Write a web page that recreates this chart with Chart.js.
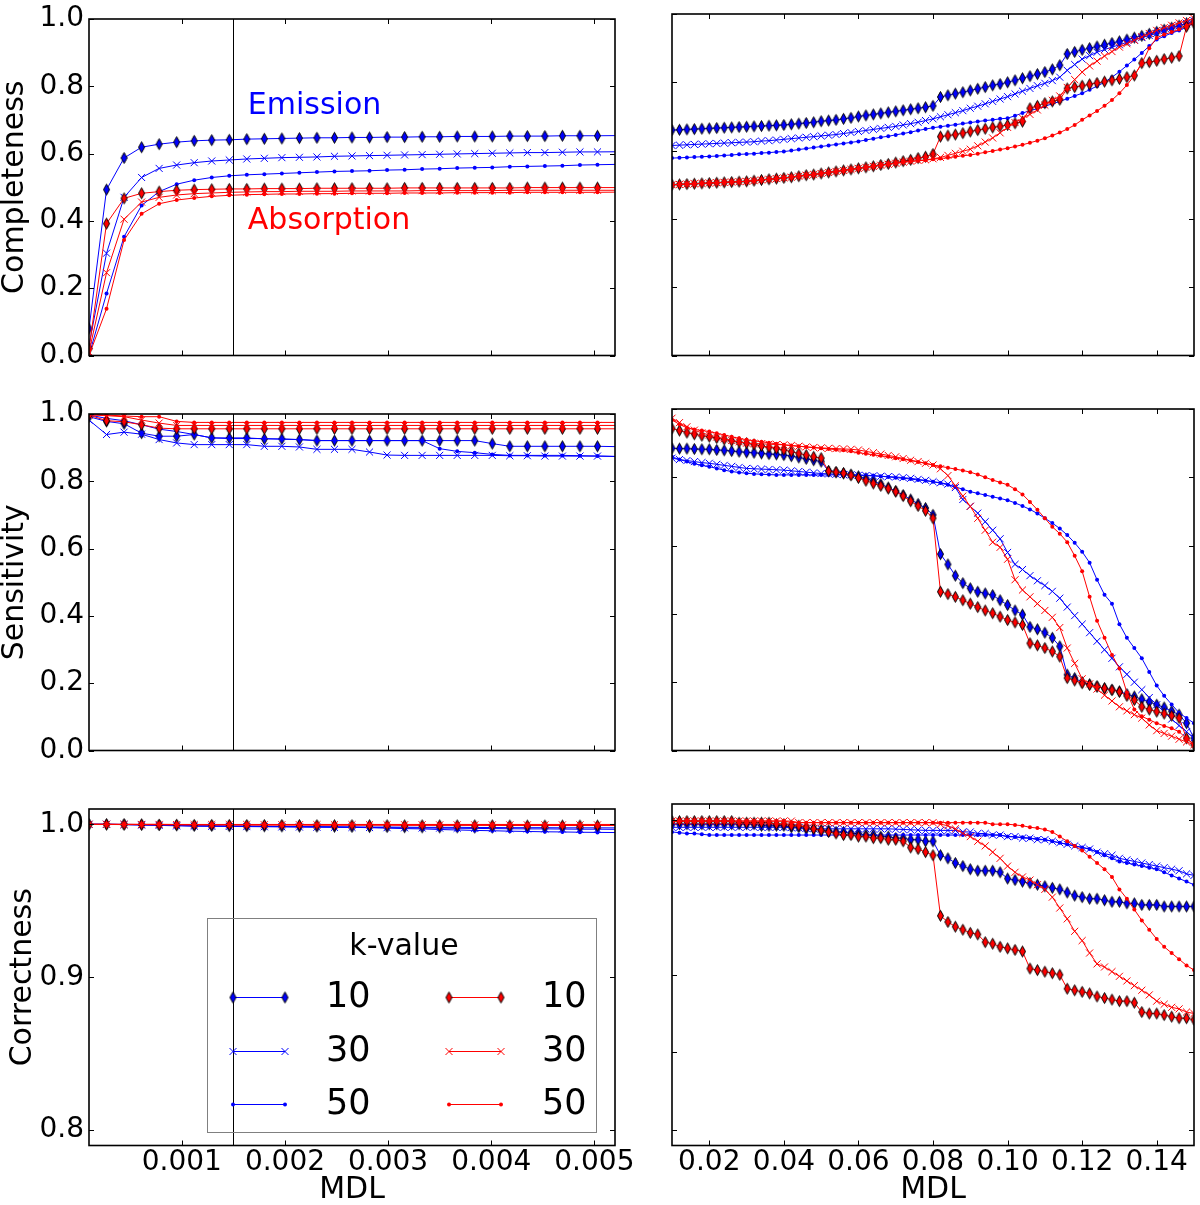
<!DOCTYPE html>
<html><head><meta charset="utf-8">
<script src="https://cdn.jsdelivr.net/npm/chart.js@4.4.1/dist/chart.umd.min.js"></script>
<style>
html,body{margin:0;padding:0;background:#fff;}
#wrap{position:relative;width:1200px;height:1205px;overflow:hidden;}
canvas{position:absolute;}
</style></head><body><div id="wrap">
<canvas id="cL1" width="650" height="395" style="left:0;top:0"></canvas>
<canvas id="cR1" width="550" height="395" style="left:650px;top:0"></canvas>
<canvas id="cL2" width="650" height="395" style="left:0;top:395px"></canvas>
<canvas id="cR2" width="550" height="395" style="left:650px;top:395px"></canvas>
<canvas id="cL3" width="650" height="415" style="left:0;top:790px"></canvas>
<canvas id="cR3" width="550" height="415" style="left:650px;top:790px"></canvas>
</div>
<script>
// ---------- categories / labels ----------
const kValues = ['10', '30', '50'];
const yTitles = ['Completeness', 'Sensitivity', 'Correctness'];
const xTitle = 'MDL';
const legendTitle = 'k-value';
const emissionText = 'Emission';
const absorptionText = 'Absorption';
const emissionPos = [0.00164, 0.719];
const absorptionPos = [0.00164, 0.376];
const markLine = 0.0015;

// ---------- tick labels ----------
const xTicksLeft = [0.001, 0.002, 0.003, 0.004, 0.005];
const xTicksRight = [0.02, 0.04, 0.06, 0.08, 0.10, 0.12, 0.14];
const yTicksUnit = [0, 0.2, 0.4, 0.6, 0.8, 1.0];
const yTicksCorrLeft = [0.8, 0.9, 1.0];
const yTicksCorrRight = [0.8, 0.85, 0.9, 1.0];

// ---------- x values ----------
const xLeft = [0.0001,0.00027,0.00044,0.00061,0.00078,0.00095,0.00112,0.00129,0.00146,0.00163,
0.0018,0.00197,0.00214,0.00231,0.00248,0.00265,0.00282,0.00299,0.00316,0.00333,
0.0035,0.00367,0.00384,0.00401,0.00418,0.00435,0.00452,0.00469,0.00486,0.00503,0.0054];
const xRight = [0.010,0.012,0.014,0.016,0.018,0.020,0.022,0.024,0.026,0.028,
0.030,0.032,0.034,0.036,0.038,0.040,0.042,0.044,0.046,0.048,
0.050,0.052,0.054,0.056,0.058,0.060,0.062,0.064,0.066,0.068,
0.070,0.072,0.074,0.076,0.078,0.080,0.082,0.084,0.086,0.088,
0.090,0.092,0.094,0.096,0.098,0.100,0.102,0.104,0.106,0.108,
0.110,0.112,0.114,0.116,0.118,0.120,0.122,0.124,0.126,0.128,
0.130,0.132,0.134,0.136,0.138,0.140,0.142,0.144,0.146,0.148,0.150];

// ---------- Completeness, left ----------
const compL_em10 = [0.08,0.493,0.587,0.619,0.628,0.634,0.638,0.640,0.641,0.643,0.644,0.645,0.646,0.647,0.647,0.648,0.648,0.649,0.649,0.650,0.650,0.651,0.651,0.651,0.652,0.652,0.652,0.653,0.653,0.653,0.654];
const compL_em30 = [0.03,0.304,0.470,0.529,0.556,0.566,0.573,0.578,0.581,0.584,0.586,0.588,0.589,0.590,0.592,0.593,0.594,0.595,0.596,0.597,0.598,0.599,0.600,0.601,0.602,0.603,0.603,0.604,0.605,0.605,0.606];
const compL_em50 = [0,0.184,0.353,0.446,0.487,0.509,0.521,0.529,0.534,0.537,0.539,0.541,0.543,0.545,0.547,0.548,0.549,0.551,0.552,0.554,0.555,0.557,0.558,0.559,0.561,0.562,0.563,0.564,0.566,0.567,0.569];
const compL_ab10 = [0.02,0.392,0.467,0.482,0.487,0.491,0.493,0.494,0.495,0.495,0.496,0.496,0.496,0.497,0.497,0.497,0.497,0.497,0.498,0.498,0.498,0.498,0.498,0.498,0.498,0.499,0.499,0.499,0.499,0.499,0.499];
const compL_ab30 = [0.01,0.246,0.405,0.456,0.470,0.477,0.481,0.483,0.485,0.486,0.487,0.487,0.488,0.488,0.488,0.489,0.489,0.489,0.489,0.490,0.490,0.490,0.490,0.490,0.491,0.491,0.491,0.491,0.491,0.491,0.491];
const compL_ab50 = [0,0.139,0.343,0.421,0.451,0.462,0.468,0.473,0.476,0.478,0.479,0.480,0.480,0.481,0.481,0.482,0.482,0.482,0.483,0.483,0.483,0.484,0.484,0.484,0.484,0.485,0.485,0.485,0.485,0.485,0.486];

// ---------- Sensitivity, left ----------
const sensL_em10 = [0.992,0.978,0.971,0.943,0.934,0.934,0.939,0.929,0.929,0.929,0.926,0.926,0.924,0.921,0.921,0.921,0.921,0.921,0.921,0.921,0.921,0.921,0.921,0.912,0.904,0.904,0.904,0.904,0.904,0.904,0.902];
const sensL_em30 = [0.982,0.939,0.946,0.940,0.924,0.914,0.909,0.909,0.909,0.909,0.904,0.904,0.902,0.895,0.895,0.895,0.887,0.878,0.877,0.877,0.877,0.877,0.877,0.877,0.876,0.876,0.875,0.875,0.875,0.875,0.872];
const sensL_em50 = [0.997,0.987,0.980,0.968,0.955,0.948,0.939,0.929,0.927,0.927,0.927,0.925,0.924,0.921,0.921,0.921,0.921,0.921,0.921,0.921,0.897,0.889,0.885,0.880,0.877,0.877,0.877,0.877,0.876,0.875,0.873];
const sensL_ab10 = [0.997,0.980,0.977,0.968,0.958,0.956,0.956,0.956,0.956,0.956,0.956,0.956,0.956,0.956,0.956,0.956,0.956,0.956,0.956,0.956,0.956,0.956,0.956,0.956,0.956,0.956,0.956,0.956,0.956,0.956,0.956];
const sensL_ab30 = [0.997,0.995,0.992,0.982,0.973,0.966,0.966,0.966,0.966,0.966,0.966,0.966,0.966,0.966,0.966,0.966,0.966,0.966,0.966,0.966,0.966,0.966,0.966,0.966,0.966,0.966,0.966,0.966,0.966,0.966,0.966];
const sensL_ab50 = [1.0,0.997,0.994,0.992,0.992,0.978,0.975,0.975,0.975,0.975,0.975,0.975,0.975,0.975,0.975,0.975,0.975,0.975,0.975,0.975,0.975,0.975,0.975,0.975,0.975,0.975,0.975,0.975,0.975,0.975,0.975];

// ---------- Correctness, left ----------
const corrL_em10 = [1.0,1.0,1.0,0.9998,0.9995,0.9993,0.999,0.999,0.9988,0.9988,0.9987,0.9986,0.9985,0.9985,0.9984,0.9983,0.9982,0.9982,0.9981,0.998,0.998,0.998,0.9979,0.9979,0.9978,0.9978,0.9978,0.9977,0.9977,0.9977,0.9976];
const corrL_em30 = [1.0,1.0,0.9998,0.9995,0.9993,0.999,0.9988,0.9987,0.9986,0.9985,0.9984,0.9983,0.9982,0.9981,0.998,0.998,0.9979,0.9978,0.9977,0.9976,0.9975,0.9974,0.9973,0.9972,0.9971,0.997,0.997,0.9969,0.9968,0.9968,0.9966];
const corrL_em50 = [1.0,1.0,0.9998,0.9996,0.9994,0.9992,0.999,0.9989,0.9988,0.9987,0.9986,0.9985,0.9984,0.9983,0.9982,0.998,0.9978,0.9975,0.9972,0.997,0.9966,0.9963,0.996,0.9958,0.9955,0.9953,0.9951,0.995,0.9948,0.9947,0.9945];
const corrL_ab10 = [1.0,0.9999,0.9998,0.9998,0.9997,0.9997,0.9996,0.9996,0.9996,0.9995,0.9995,0.9995,0.9995,0.9994,0.9994,0.9994,0.9994,0.9994,0.9993,0.9993,0.9993,0.9993,0.9993,0.9993,0.9992,0.9992,0.9992,0.9992,0.9992,0.9992,0.9992];
const corrL_ab30 = [1.0,1.0,0.9999,0.9999,0.9999,0.9998,0.9998,0.9998,0.9998,0.9998,0.9997,0.9997,0.9997,0.9997,0.9997,0.9997,0.9997,0.9997,0.9997,0.9997,0.9996,0.9996,0.9996,0.9996,0.9996,0.9996,0.9996,0.9996,0.9996,0.9996,0.9996];
const corrL_ab50 = [1.0,1.0,1.0,1.0,1.0,0.9999,0.9999,0.9999,0.9999,0.9999,0.9999,0.9999,0.9999,0.9999,0.9999,0.9999,0.9999,0.9999,0.9999,0.9999,0.9999,0.9999,0.9999,0.9999,0.9999,0.9999,0.9999,0.9999,0.9999,0.9999,0.9999];

// ---------- Completeness, right ----------
const compR_em10 = [0.660,0.661,0.662,0.663,0.664,0.665,0.666,0.667,0.668,0.669,
0.670,0.671,0.672,0.673,0.674,0.675,0.677,0.679,0.681,0.683,
0.686,0.688,0.690,0.693,0.696,0.700,0.703,0.706,0.709,0.712,
0.715,0.718,0.721,0.724,0.727,0.731,0.757,0.762,0.767,0.771,
0.776,0.781,0.786,0.791,0.795,0.800,0.806,0.812,0.818,0.824,
0.830,0.838,0.850,0.883,0.889,0.895,0.900,0.905,0.910,0.915,
0.920,0.925,0.931,0.936,0.942,0.948,0.954,0.960,0.966,0.973,0.980];
const compR_em30 = [0.615,0.616,0.617,0.618,0.619,0.620,0.621,0.622,0.623,0.624,
0.625,0.626,0.628,0.629,0.631,0.633,0.635,0.637,0.639,0.641,
0.643,0.645,0.647,0.650,0.653,0.656,0.659,0.662,0.665,0.668,
0.671,0.675,0.679,0.683,0.688,0.693,0.699,0.705,0.711,0.717,
0.724,0.730,0.737,0.744,0.751,0.758,0.766,0.774,0.782,0.790,
0.797,0.805,0.815,0.835,0.852,0.868,0.878,0.888,0.896,0.903,
0.910,0.917,0.924,0.931,0.937,0.943,0.951,0.958,0.965,0.972,0.980];
const compR_em50 = [0.578,0.579,0.580,0.581,0.582,0.583,0.584,0.586,0.587,0.589,
0.590,0.591,0.593,0.594,0.596,0.597,0.600,0.603,0.606,0.609,
0.612,0.615,0.618,0.621,0.624,0.627,0.631,0.635,0.639,0.642,
0.646,0.650,0.654,0.659,0.663,0.667,0.670,0.673,0.676,0.679,
0.682,0.685,0.688,0.690,0.693,0.695,0.702,0.710,0.717,0.723,
0.730,0.737,0.744,0.752,0.760,0.768,0.778,0.789,0.800,0.815,
0.831,0.849,0.867,0.886,0.906,0.925,0.935,0.944,0.952,0.962,0.973];
const compR_ab10 = [0.500,0.501,0.502,0.503,0.504,0.505,0.506,0.507,0.508,0.509,
0.510,0.512,0.514,0.516,0.518,0.520,0.522,0.525,0.528,0.530,
0.533,0.536,0.539,0.542,0.545,0.548,0.551,0.554,0.558,0.561,
0.565,0.569,0.573,0.578,0.582,0.590,0.641,0.644,0.647,0.651,
0.656,0.660,0.664,0.668,0.671,0.675,0.680,0.685,0.724,0.731,
0.739,0.744,0.749,0.782,0.786,0.790,0.794,0.798,0.802,0.806,
0.810,0.815,0.820,0.856,0.859,0.863,0.868,0.872,0.877,0.963,0.973];
const compR_ab30 = [0.500,0.501,0.502,0.503,0.504,0.505,0.506,0.507,0.508,0.509,
0.510,0.512,0.514,0.516,0.518,0.520,0.522,0.525,0.528,0.530,
0.533,0.536,0.539,0.542,0.545,0.548,0.551,0.554,0.557,0.560,
0.563,0.566,0.569,0.571,0.573,0.576,0.580,0.586,0.592,0.598,
0.604,0.614,0.625,0.637,0.652,0.668,0.682,0.695,0.706,0.719,
0.733,0.747,0.760,0.785,0.808,0.830,0.848,0.862,0.877,0.890,
0.903,0.913,0.923,0.933,0.943,0.952,0.960,0.967,0.974,0.981,0.987];
const compR_ab50 = [0.500,0.501,0.502,0.503,0.504,0.505,0.506,0.507,0.508,0.509,
0.510,0.512,0.514,0.516,0.518,0.520,0.522,0.525,0.528,0.530,
0.533,0.536,0.539,0.542,0.545,0.548,0.551,0.554,0.557,0.560,
0.563,0.566,0.568,0.570,0.572,0.575,0.577,0.579,0.582,0.585,
0.587,0.591,0.595,0.599,0.603,0.607,0.612,0.617,0.623,0.629,
0.636,0.644,0.653,0.663,0.675,0.690,0.703,0.716,0.731,0.748,
0.768,0.792,0.820,0.855,0.900,0.930,0.940,0.947,0.955,0.966,0.977];

// ---------- Sensitivity, right ----------
const sensR_em10 = [0.885,0.884,0.884,0.883,0.882,0.882,0.880,0.879,0.877,0.875,
0.873,0.872,0.870,0.868,0.867,0.865,0.862,0.858,0.854,0.850,
0.846,0.818,0.815,0.812,0.808,0.803,0.797,0.789,0.780,0.770,
0.760,0.748,0.735,0.722,0.710,0.690,0.575,0.545,0.512,0.490,
0.475,0.465,0.460,0.455,0.440,0.426,0.410,0.398,0.362,0.355,
0.345,0.330,0.305,0.222,0.212,0.200,0.194,0.188,0.182,0.178,
0.173,0.165,0.158,0.150,0.142,0.134,0.126,0.115,0.105,0.080,0.036];
const sensR_em30 = [0.856,0.852,0.849,0.846,0.843,0.841,0.838,0.835,0.832,0.829,
0.826,0.825,0.824,0.823,0.822,0.821,0.819,0.817,0.815,0.813,
0.811,0.810,0.809,0.808,0.807,0.806,0.805,0.804,0.803,0.802,
0.801,0.799,0.797,0.794,0.791,0.787,0.784,0.780,0.770,0.735,
0.715,0.695,0.670,0.645,0.620,0.580,0.545,0.530,0.512,0.497,
0.483,0.466,0.446,0.420,0.395,0.370,0.345,0.320,0.295,0.270,
0.245,0.223,0.200,0.178,0.155,0.134,0.113,0.092,0.073,0.055,0.036];
const sensR_em50 = [0.860,0.852,0.846,0.840,0.835,0.831,0.826,0.821,0.817,0.814,
0.812,0.810,0.809,0.808,0.807,0.807,0.807,0.807,0.807,0.807,
0.807,0.807,0.807,0.807,0.807,0.807,0.806,0.805,0.803,0.801,
0.799,0.797,0.795,0.792,0.790,0.787,0.783,0.778,0.772,0.765,
0.758,0.753,0.748,0.743,0.738,0.733,0.725,0.716,0.706,0.694,
0.680,0.666,0.650,0.631,0.608,0.582,0.550,0.500,0.456,0.430,
0.370,0.330,0.300,0.270,0.230,0.190,0.160,0.135,0.110,0.095,0.080];
const sensR_ab10 = [0.943,0.937,0.931,0.926,0.922,0.919,0.915,0.911,0.907,0.903,
0.900,0.896,0.892,0.888,0.884,0.880,0.875,0.870,0.865,0.860,
0.856,0.818,0.815,0.812,0.806,0.798,0.790,0.782,0.775,0.767,
0.758,0.745,0.730,0.716,0.702,0.680,0.465,0.458,0.450,0.440,
0.430,0.420,0.410,0.402,0.392,0.382,0.375,0.368,0.314,0.308,
0.300,0.290,0.275,0.212,0.205,0.197,0.192,0.187,0.182,0.177,
0.172,0.160,0.148,0.128,0.120,0.114,0.108,0.102,0.095,0.036,0.017];
const sensR_ab30 = [0.973,0.960,0.948,0.938,0.930,0.924,0.918,0.913,0.908,0.904,
0.900,0.899,0.898,0.897,0.896,0.895,0.893,0.891,0.889,0.887,
0.886,0.885,0.884,0.883,0.882,0.880,0.876,0.872,0.868,0.864,
0.860,0.855,0.850,0.846,0.841,0.836,0.825,0.805,0.775,0.745,
0.715,0.680,0.645,0.610,0.595,0.560,0.500,0.470,0.450,0.430,
0.410,0.390,0.360,0.300,0.255,0.210,0.195,0.180,0.162,0.145,
0.128,0.116,0.105,0.095,0.075,0.058,0.050,0.042,0.033,0.025,0.017];
const sensR_ab50 = [0.968,0.955,0.945,0.940,0.937,0.934,0.929,0.924,0.919,0.914,
0.910,0.907,0.904,0.901,0.898,0.895,0.893,0.891,0.889,0.887,
0.885,0.883,0.881,0.879,0.876,0.872,0.869,0.866,0.863,0.860,
0.856,0.853,0.849,0.845,0.841,0.836,0.832,0.828,0.824,0.820,
0.815,0.808,0.800,0.792,0.785,0.778,0.765,0.750,0.728,0.705,
0.680,0.655,0.635,0.610,0.570,0.525,0.450,0.380,0.330,0.280,
0.240,0.170,0.120,0.100,0.090,0.080,0.072,0.065,0.055,0.035,0.017];

// ---------- Correctness, right ----------
const corrR_em10 = [0.997,0.997,0.997,0.997,0.997,0.997,0.997,0.997,0.997,0.997,
0.997,0.997,0.996,0.996,0.996,0.996,0.995,0.995,0.994,0.994,
0.993,0.993,0.992,0.992,0.991,0.991,0.990,0.990,0.989,0.989,
0.988,0.988,0.987,0.987,0.986,0.986,0.977,0.975,0.972,0.970,
0.968,0.967,0.967,0.967,0.966,0.962,0.961,0.960,0.959,0.958,
0.957,0.956,0.955,0.953,0.951,0.950,0.949,0.949,0.948,0.947,
0.947,0.946,0.946,0.945,0.945,0.945,0.944,0.944,0.944,0.944,0.944];
const corrR_em30 = [0.995,0.995,0.995,0.995,0.995,0.995,0.995,0.995,0.995,0.995,
0.995,0.995,0.995,0.995,0.995,0.995,0.9948,0.9946,0.9944,0.9942,
0.994,0.994,0.994,0.994,0.994,0.994,0.994,0.994,0.994,0.994,
0.9938,0.9936,0.9934,0.9932,0.993,0.993,0.993,0.993,0.993,0.992,
0.992,0.991,0.991,0.990,0.990,0.989,0.989,0.988,0.988,0.987,
0.987,0.986,0.985,0.984,0.983,0.982,0.981,0.979,0.978,0.977,
0.975,0.974,0.973,0.972,0.971,0.970,0.969,0.968,0.967,0.965,0.964];
const corrR_em50 = [0.992,0.9915,0.991,0.991,0.9905,0.990,0.990,0.990,0.990,0.990,
0.990,0.990,0.990,0.990,0.990,0.990,0.990,0.990,0.990,0.990,
0.990,0.990,0.990,0.990,0.990,0.990,0.990,0.990,0.990,0.990,
0.990,0.990,0.990,0.990,0.990,0.990,0.990,0.990,0.990,0.990,
0.990,0.990,0.990,0.990,0.990,0.989,0.9888,0.9885,0.988,0.9875,
0.987,0.986,0.985,0.984,0.983,0.982,0.981,0.979,0.977,0.975,
0.973,0.972,0.971,0.970,0.969,0.968,0.966,0.964,0.962,0.960,0.958];
const corrR_ab10 = [0.999,0.999,0.999,0.999,0.999,0.999,0.999,0.999,0.999,0.998,
0.998,0.998,0.998,0.998,0.997,0.997,0.996,0.996,0.995,0.994,
0.993,0.992,0.991,0.990,0.990,0.989,0.989,0.988,0.988,0.987,
0.987,0.986,0.982,0.981,0.979,0.977,0.938,0.934,0.931,0.929,
0.927,0.926,0.921,0.920,0.918,0.917,0.916,0.915,0.904,0.903,
0.902,0.901,0.900,0.891,0.890,0.889,0.888,0.886,0.885,0.884,
0.883,0.883,0.882,0.876,0.875,0.875,0.874,0.873,0.872,0.872,0.871];
const corrR_ab30 = [0.999,0.999,0.999,0.999,0.999,0.999,0.999,0.999,0.999,0.999,
0.999,0.999,0.999,0.999,0.999,0.999,0.999,0.998,0.998,0.998,
0.998,0.998,0.998,0.998,0.998,0.998,0.998,0.998,0.998,0.998,
0.998,0.998,0.998,0.998,0.998,0.998,0.997,0.996,0.994,0.991,
0.989,0.986,0.983,0.979,0.975,0.970,0.966,0.963,0.961,0.958,
0.955,0.950,0.943,0.936,0.928,0.922,0.914,0.907,0.905,0.902,
0.899,0.896,0.893,0.890,0.887,0.883,0.881,0.879,0.878,0.876,0.875];
const corrR_ab50 = [0.999,0.999,0.999,0.999,0.999,0.999,0.999,0.999,0.999,0.999,
0.999,0.999,0.999,0.999,0.999,0.999,0.998,0.998,0.998,0.998,
0.998,0.998,0.998,0.998,0.998,0.998,0.998,0.998,0.998,0.998,
0.998,0.998,0.998,0.998,0.998,0.998,0.998,0.998,0.998,0.998,
0.998,0.998,0.998,0.997,0.997,0.997,0.9965,0.996,0.995,0.9945,
0.9935,0.992,0.989,0.986,0.983,0.980,0.976,0.972,0.968,0.963,
0.955,0.949,0.942,0.935,0.929,0.923,0.918,0.914,0.910,0.906,0.903];

// ---------- styling ----------
const FONT = '"DejaVu Sans", "Liberation Sans", sans-serif';
const BLUE = '#0000ff';
const RED = '#ff0000';

function diamondImg(fill) {
  const c = document.createElement('canvas');
  c.width = 9; c.height = 14;
  const g = c.getContext('2d');
  g.beginPath();
  g.moveTo(4.5, 1.5); g.lineTo(7.5, 7); g.lineTo(4.5, 12.5); g.lineTo(1.5, 7); g.closePath();
  g.fillStyle = fill; g.fill();
  g.lineWidth = 1; g.strokeStyle = '#000'; g.stroke();
  return c;
}
const diamondBlue = diamondImg(BLUE);
const diamondRed = diamondImg(RED);

function markerStyle(k, color) {
  if (k === '10') return { pointStyle: color === BLUE ? diamondBlue : diamondRed, pointRadius: 5, pointBackgroundColor: color, pointBorderColor: '#000', pointBorderWidth: 1 };
  if (k === '30') return { pointStyle: 'crossRot', pointRadius: 5, pointBackgroundColor: color, pointBorderColor: color, pointBorderWidth: 1 };
  return { pointStyle: 'circle', pointRadius: 2, pointBackgroundColor: color, pointBorderColor: color, pointBorderWidth: 0 };
}

function buildDatasets(xs, em, ab) {
  const list = [];
  em.forEach((ys, i) => list.push({ k: kValues[i], color: BLUE, ys }));
  ab.forEach((ys, i) => list.push({ k: kValues[i], color: RED, ys }));
  return list.map((s, i) => Object.assign({
    label: s.k,
    data: s.ys.map((y, j) => ({ x: xs[j], y })),
    borderColor: s.color, borderWidth: 1, tension: 0, fill: false,
    order: list.length - i
  }, markerStyle(s.k, s.color)));
}

function drawMarker(ctx, d, x, y) {
  ctx.save();
  const st = d.pointStyle;
  if (typeof st === 'object') {
    ctx.drawImage(st, x - st.width / 2, y - st.height / 2);
  } else if (st === 'crossRot') {
    ctx.strokeStyle = d.pointBorderColor; ctx.lineWidth = 1;
    ctx.beginPath();
    ctx.moveTo(x - 3.5, y - 3.5); ctx.lineTo(x + 3.5, y + 3.5);
    ctx.moveTo(x - 3.5, y + 3.5); ctx.lineTo(x + 3.5, y - 3.5);
    ctx.stroke();
  } else {
    ctx.fillStyle = d.pointBackgroundColor;
    ctx.beginPath(); ctx.arc(x, y, 2, 0, Math.PI * 2); ctx.fill();
  }
  ctx.restore();
}

function drawLegend(chart, a, ctx) {
  ctx.save();
  ctx.strokeStyle = '#808080'; ctx.lineWidth = 1;
  ctx.strokeRect(Math.round(a.left + 118) + 0.5, Math.round(a.top + 109) + 0.5, 389, 214);
  ctx.fillStyle = '#000';
  ctx.font = '30px ' + FONT;
  ctx.textAlign = 'center'; ctx.textBaseline = 'middle';
  ctx.fillText(legendTitle, a.left + 315, a.top + 138);
  ctx.font = '35px ' + FONT;
  ctx.textAlign = 'left';
  const rowsY = [188, 242, 295];
  const handleX = [144, 360];
  const labelX = [237, 453];
  chart.data.datasets.forEach((d, i) => {
    const col = Math.floor(i / 3), row = i % 3;
    const y = Math.round(a.top + rowsY[row]) + 0.5;
    const x1 = a.left + handleX[col], x2 = x1 + 52;
    ctx.strokeStyle = d.borderColor; ctx.lineWidth = 1;
    ctx.beginPath(); ctx.moveTo(x1, y); ctx.lineTo(x2, y); ctx.stroke();
    drawMarker(ctx, d, x1, y); drawMarker(ctx, d, x2, y);
    ctx.fillStyle = '#000';
    ctx.fillText(d.label, a.left + labelX[col], y);
  });
  ctx.restore();
}

function framePlugin(o) {
  return {
    id: 'frame',
    afterDatasetsDraw(chart) {
      const ctx = chart.ctx, a = chart.chartArea, xs = chart.scales.x, ys = chart.scales.y;
      ctx.save();
      ctx.strokeStyle = '#000'; ctx.lineWidth = 1;
      if (o.vline != null) {
        const p = Math.round(xs.getPixelForValue(o.vline)) + 0.5;
        ctx.beginPath(); ctx.moveTo(p, a.top); ctx.lineTo(p, a.bottom); ctx.stroke();
      }
      if (o.texts) {
        ctx.font = '30px ' + FONT; ctx.textAlign = 'left'; ctx.textBaseline = 'alphabetic';
        o.texts.forEach(t => {
          ctx.fillStyle = t.color;
          ctx.fillText(t.text, xs.getPixelForValue(t.pos[0]), ys.getPixelForValue(t.pos[1]));
        });
      }
      if (o.legend) drawLegend(chart, a, ctx);
      const L = 5;
      ctx.strokeStyle = '#000'; ctx.lineWidth = 1;
      ctx.beginPath();
      xs.ticks.forEach(t => {
        const p = Math.round(xs.getPixelForValue(t.value)) + 0.5;
        ctx.moveTo(p, a.bottom); ctx.lineTo(p, a.bottom - L);
        ctx.moveTo(p, a.top); ctx.lineTo(p, a.top + L);
      });
      ys.ticks.forEach(t => {
        const p = Math.round(ys.getPixelForValue(t.value)) + 0.5;
        ctx.moveTo(a.left, p); ctx.lineTo(a.left + L, p);
        ctx.moveTo(a.right, p); ctx.lineTo(a.right - L, p);
      });
      ctx.stroke();
      ctx.lineWidth = 1.6;
      ctx.strokeRect(a.left, a.top, a.right - a.left, a.bottom - a.top);
      ctx.restore();
    }
  };
}

function panel(id, o) {
  const left = o.side === 'L';
  const datasets = buildDatasets(o.xs, o.em, o.ab);
  return new Chart(document.getElementById(id), {
    type: 'line',
    data: { datasets },
    options: {
      responsive: false, animation: false, devicePixelRatio: 1, events: [],
      layout: { padding: { left: 0, right: left ? 35 : 2, top: 14, bottom: 0 } },
      plugins: { legend: { display: false }, tooltip: { enabled: false } },
      scales: {
        x: {
          type: 'linear', position: 'bottom',
          min: left ? 0.0001 : 0.01, max: left ? 0.0052 : 0.15,
          grid: { display: false, drawTicks: false }, border: { display: false },
          afterBuildTicks: sc => { sc.ticks = (left ? xTicksLeft : xTicksRight).map(v => ({ value: v })); },
          afterFit: sc => { sc.height = o.bottomRow ? 59.5 : 39.5; },
          ticks: {
            display: !!o.bottomRow, autoSkip: false, maxRotation: 0, minRotation: 0, padding: 0,
            color: '#000', font: { family: FONT, size: 28 },
            callback: v => v.toFixed(left ? 3 : 2)
          },
          title: { display: !!o.bottomRow, text: xTitle, color: '#000',
                   font: { family: FONT, size: 30, lineHeight: 1 }, padding: { top: 0, bottom: 0 } }
        },
        y: {
          type: 'linear', position: 'left', min: o.ymin, max: o.ymax,
          grid: { display: false, drawTicks: false }, border: { display: false },
          afterBuildTicks: sc => { sc.ticks = o.yticks.map(v => ({ value: v })); },
          afterFit: sc => { sc.width = left ? 89 : 22; },
          ticks: {
            display: left, autoSkip: false, padding: 5, color: '#000',
            font: { family: FONT, size: 28, lineHeight: 1 },
            callback: v => v.toFixed(1)
          },
          title: { display: left, text: o.ytitle || '', color: '#000',
                   font: { family: FONT, size: 30, lineHeight: 1 }, padding: { top: o.ytpad || 0, bottom: 0 } }
        }
      }
    },
    plugins: [framePlugin(o)]
  });
}

panel('cL1', { side: 'L', xs: xLeft, em: [compL_em10, compL_em30, compL_em50], ab: [compL_ab10, compL_ab30, compL_ab50],
  ymin: 0, ymax: 1, yticks: yTicksUnit, ytitle: yTitles[0], ytpad: 0, vline: markLine,
  texts: [{ text: emissionText, color: BLUE, pos: emissionPos }, { text: absorptionText, color: RED, pos: absorptionPos }] });
panel('cR1', { side: 'R', xs: xRight, em: [compR_em10, compR_em30, compR_em50], ab: [compR_ab10, compR_ab30, compR_ab50],
  ymin: 0, ymax: 1, yticks: yTicksUnit });
panel('cL2', { side: 'L', xs: xLeft, em: [sensL_em10, sensL_em30, sensL_em50], ab: [sensL_ab10, sensL_ab30, sensL_ab50],
  ymin: 0, ymax: 1, yticks: yTicksUnit, ytitle: yTitles[1], ytpad: 0, vline: markLine });
panel('cR2', { side: 'R', xs: xRight, em: [sensR_em10, sensR_em30, sensR_em50], ab: [sensR_ab10, sensR_ab30, sensR_ab50],
  ymin: 0, ymax: 1, yticks: yTicksUnit });
panel('cL3', { side: 'L', xs: xLeft, em: [corrL_em10, corrL_em30, corrL_em50], ab: [corrL_ab10, corrL_ab30, corrL_ab50],
  ymin: 0.79, ymax: 1.01, yticks: yTicksCorrLeft, ytitle: yTitles[2], ytpad: 8, vline: markLine, legend: true, bottomRow: true });
panel('cR3', { side: 'R', xs: xRight, em: [corrR_em10, corrR_em30, corrR_em50], ab: [corrR_ab10, corrR_ab30, corrR_ab50],
  ymin: 0.79, ymax: 1.01, yticks: yTicksCorrRight, bottomRow: true });
</script>
</body></html>
